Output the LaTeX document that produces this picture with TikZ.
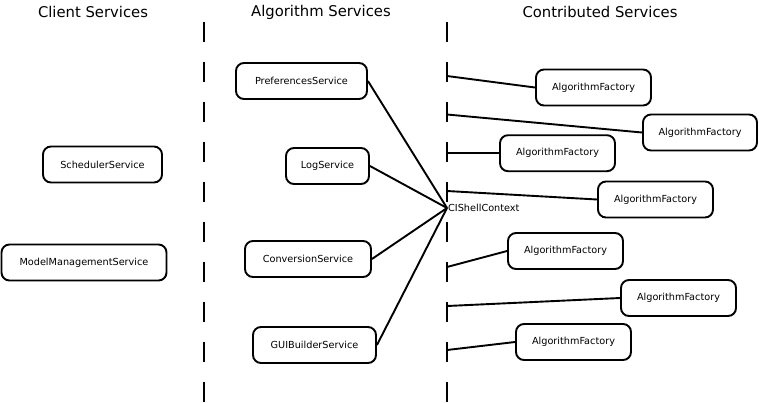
\documentclass[tikz,border=0pt]{standalone}
\usepackage{fontspec}
\setmainfont{DejaVu Sans}
\begin{document}
\begin{tikzpicture}[x=1pt,y=-1pt,
  svc/.style={draw,line width=1.9pt,rounded corners=8pt,minimum height=36pt,font=\fontsize{9.7}{11}\selectfont,inner sep=0pt},
  conn/.style={line width=1.9pt},
  sep/.style={line width=2pt,dash pattern=on 20pt off 20pt},
  title/.style={font=\fontsize{14.8}{17}\selectfont}]
\useasboundingbox (0,0) rectangle (759,402);
% titles
\node[title] (t1) at (93,12) {Client Services};
\node[title] (t2) at (321,12) {Algorithm Services};
\node[title] (t3) at (600,12) {Contributed Services};
% separators
\coordinate (s1a) at (204,22); \coordinate (s1b) at (204,402);
\coordinate (s2a) at (447,22); \coordinate (s2b) at (447,402);
\draw[sep] (s1a) -- (s1b);
\draw[sep] (s2a) -- (s2b);
% client services
\node[svc,minimum width=119pt] (sched) at (102.5,164.5) {SchedulerService};
\node[svc,minimum width=165pt] (model) at (84,262.5) {ModelManagementService};
% algorithm services
\node[svc,minimum width=131pt] (pref) at (301.5,81) {PreferencesService};
\node[svc,minimum width=83pt] (log) at (327.5,166) {LogService};
\node[svc,minimum width=126pt] (conv) at (308,259) {ConversionService};
\node[svc,minimum width=123pt] (gui) at (314.5,345) {GUIBuilderService};
% hub
\coordinate (hub) at (447,208);
\node[anchor=west,inner sep=0pt,font=\fontsize{9.7}{11}\selectfont] (ctx) at (448,207.5) {CIShellContext};
\draw[conn] (pref.east) -- (hub);
\draw[conn] (log.east) -- (hub);
\draw[conn] (conv.east) -- (hub);
\draw[conn] (gui.east) -- (hub);
% contributed services
\node[svc,minimum width=115pt] (f1) at (593.5,87.5) {AlgorithmFactory};
\node[svc,minimum width=114pt] (f2) at (700,132.5) {AlgorithmFactory};
\node[svc,minimum width=115pt] (f3) at (557.5,153.2) {AlgorithmFactory};
\node[svc,minimum width=115pt] (f4) at (655.5,199.5) {AlgorithmFactory};
\node[svc,minimum width=115pt] (f5) at (565.5,251) {AlgorithmFactory};
\node[svc,minimum width=115pt] (f6) at (678.5,298) {AlgorithmFactory};
\node[svc,minimum width=115pt] (f7) at (573.5,342) {AlgorithmFactory};
\coordinate (p1) at (447,76);
\coordinate (p2) at (447,114.5);
\coordinate (p3) at (447,153.2);
\coordinate (p4) at (447,191);
\coordinate (p5) at (447,267);
\coordinate (p6) at (447,306);
\coordinate (p7) at (447,350);
\draw[conn] (p1) -- (f1.west);
\draw[conn] (p2) -- (f2.west);
\draw[conn] (p3) -- (f3.west);
\draw[conn] (p4) -- (f4.west);
\draw[conn] (p5) -- (f5.west);
\draw[conn] (p6) -- (f6.west);
\draw[conn] (p7) -- (f7.west);
\end{tikzpicture}
\end{document}
